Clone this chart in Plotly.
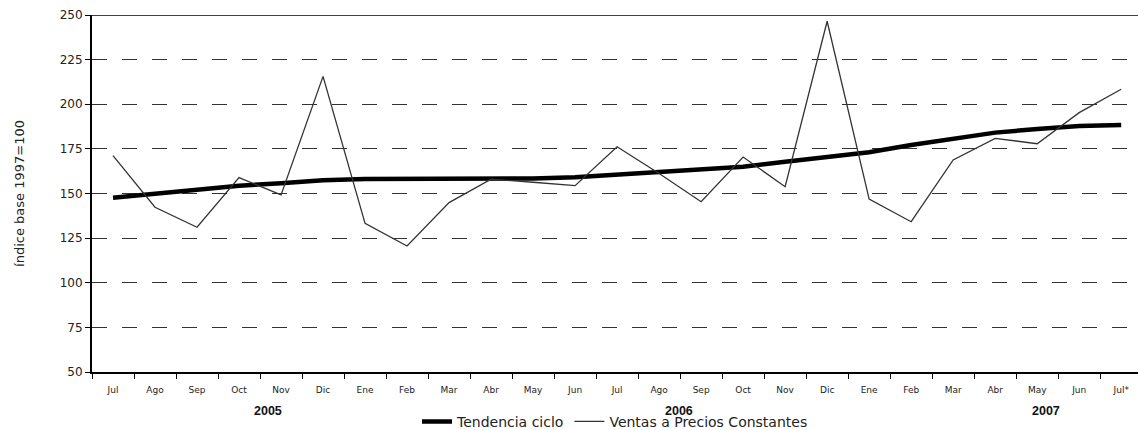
import plotly.graph_objects as go

months = ["Jul", "Ago", "Sep", "Oct", "Nov", "Dic",
          "Ene", "Feb", "Mar", "Abr", "May", "Jun", "Jul", "Ago", "Sep", "Oct", "Nov", "Dic",
          "Ene", "Feb", "Mar", "Abr", "May", "Jun", "Jul*"]

ventas = [171.2, 142.3, 131.1, 158.9, 149.2, 215.6,
          133.3, 120.6, 144.9, 158.0, 156.3, 154.4, 176.2, 161.2, 145.4, 170.4, 153.8, 246.5,
          146.9, 134.2, 168.8, 180.9, 177.9, 195.3, 208.4]

tendencia = [147.6, 149.7, 152.0, 154.4, 155.7, 157.4,
             158.1, 158.1, 158.1, 158.2, 158.4, 159.1, 160.5, 161.6, 163.5, 165.0, 167.8, 170.4,
             173.1, 177.2, 180.9, 184.1, 186.1, 187.8, 188.4]

years = ["2005", "2006", "2007"]
year_pos = [3.69, 13.48, 22.21]

y_ticks = [50, 75, 100, 125, 150, 175, 200, 225, 250]

x_idx = list(range(len(months)))

fig = go.Figure()
fig.add_trace(go.Scatter(
    x=x_idx, y=tendencia, mode="lines", name="Tendencia ciclo",
    line=dict(color="#000000", width=4.5)))
fig.add_trace(go.Scatter(
    x=x_idx, y=ventas, mode="lines", name="Ventas a Precios Constantes",
    line=dict(color="#333333", width=1.3)))

for yr, xp in zip(years, year_pos):
    fig.add_annotation(x=xp, y=-0.108, xref="x", yref="paper", text=yr,
                       showarrow=False, yanchor="middle",
                       font=dict(family="Liberation Sans, Arial", size=12.5, color="#111", weight="bold"))

fig.add_shape(type="line", xref="paper", yref="y", x0=0, x1=1, y0=250, y1=250,
              line=dict(color="#000", width=1.5))

fig.update_layout(
    width=1138, height=430,
    margin=dict(l=92, r=0, t=15, b=58, autoexpand=False),
    plot_bgcolor="white", paper_bgcolor="white",
    font=dict(family="Liberation Sans, Arial", color="#222"),
    showlegend=True,
    legend=dict(orientation="h", x=0.5, xanchor="center", xref="paper",
                y=0.019, yanchor="middle", yref="container",
                font=dict(size=14, color="#222", family="DejaVu Sans"), itemwidth=30,
                bgcolor="rgba(0,0,0,0)", tracegroupgap=0),
    xaxis=dict(
        range=[-0.5, 24.4], tickmode="array", tickvals=x_idx, ticktext=months,
        ticks="", showgrid=False, zeroline=False, automargin=False,
        showline=True, linecolor="#000", linewidth=2,
        tickfont=dict(size=9, color="#222", family="DejaVu Sans"),
        ticklabelstandoff=8,
        minor=dict(tick0=-0.5, dtick=1, ticks="outside", ticklen=5, tickcolor="#000",
                   tickwidth=1, showgrid=False),
    ),
    yaxis=dict(
        range=[50, 250], tickmode="array", tickvals=y_ticks, automargin=False,
        ticks="outside", ticklen=5, tickcolor="#000", tickwidth=1,
        showline=True, linecolor="#000", linewidth=2,
        showgrid=True, gridcolor="#333", gridwidth=1, griddash="15px,15px",
        zeroline=False,
        tickfont=dict(size=12, color="#222", family="DejaVu Sans"),
        title=dict(text="índice base 1997=100",
                   font=dict(size=13, color="#222", family="DejaVu Sans"), standoff=32),
    ),
)

fig.write_html("out.html", config={"displayModeBar": False},
               post_script="document.body.style.margin='0';")
